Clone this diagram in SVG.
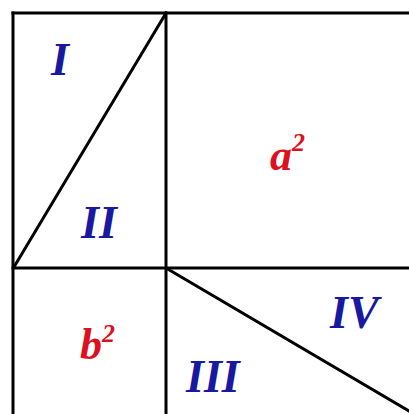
<svg xmlns="http://www.w3.org/2000/svg" width="409" height="414" viewBox="0 0 409 414">
<style>
.ln{stroke:#000;stroke-width:3;fill:none;stroke-linecap:square}
.rn{font-family:"Liberation Serif","Times New Roman",serif;font-weight:bold;font-style:italic;font-size:46px;fill:#1818a0}
.sq{font-family:"Liberation Serif","Times New Roman",serif;font-weight:bold;font-style:italic;font-size:44px;fill:#dd1020}
.sup{font-size:26px}
</style>
<rect width="409" height="414" fill="#fff"/>
<g id="lines">
<line class="ln" x1="13" y1="13" x2="409" y2="13"/>
<line class="ln" x1="13" y1="13" x2="13" y2="414"/>
<line class="ln" x1="166" y1="13" x2="166" y2="414"/>
<line class="ln" x1="13" y1="268" x2="409" y2="268"/>
<line class="ln" x1="14" y1="267" x2="166" y2="13"/>
<line class="ln" x1="166" y1="268" x2="409" y2="411"/>
</g>
<g id="I"><text class="rn" x="51" y="75">I</text></g>
<g id="II"><text class="rn" x="81" y="238">II</text></g>
<g id="III"><text class="rn" x="186" y="392">III</text></g>
<g id="IV"><text class="rn" x="330" y="328">IV</text></g>
<g id="a2"><text class="sq" x="270" y="170">a<tspan class="sup" dy="-19">2</tspan></text></g>
<g id="b2"><text class="sq" x="80" y="359">b<tspan class="sup" dy="-17">2</tspan></text></g>
</svg>
